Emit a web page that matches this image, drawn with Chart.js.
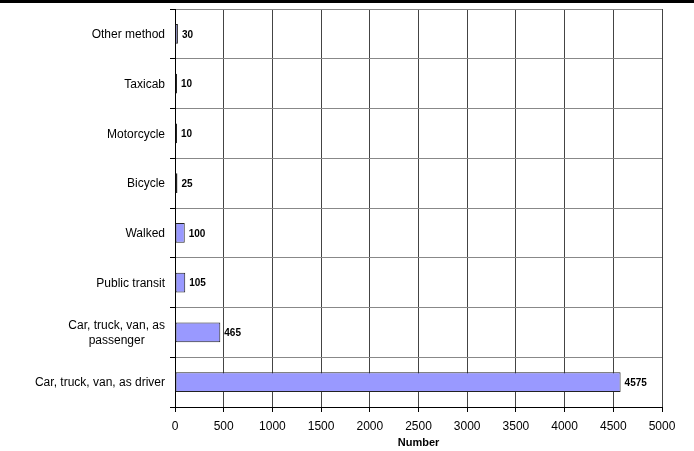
<!DOCTYPE html>
<html>
<head>
<meta charset="utf-8">
<script src="https://cdn.jsdelivr.net/npm/chart.js@4"></script>
<style>
html,body{margin:0;padding:0;background:#fff;}
#wrap{width:694px;height:451px;position:relative;}
</style>
</head>
<body>
<div id="wrap"><canvas id="c" width="694" height="451"></canvas></div>
<script>
const categories = [
  'Other method',
  'Taxicab',
  'Motorcycle',
  'Bicycle',
  'Walked',
  'Public transit',
  ['Car, truck, van, as', 'passenger'],
  'Car, truck, van, as driver'
];
const values = [30, 10, 10, 25, 100, 105, 465, 4575];
const xTitle = 'Number';
const xMin = 0, xMax = 5000, xStep = 500;

const FONT = '"Liberation Sans", Arial, sans-serif';

const topLine = {
  id: 'topLine',
  afterDraw(chart) {
    const ctx = chart.ctx;
    ctx.save();
    ctx.fillStyle = '#000';
    ctx.fillRect(0, 0, chart.width, 3);
    ctx.restore();
  }
};

const catLabels = {
  id: 'catLabels',
  afterDraw(chart) {
    const ctx = chart.ctx;
    const y = chart.scales.y;
    const right = y.right - 10;
    const lh = 15;
    ctx.save();
    ctx.font = '12px ' + FONT;
    ctx.fillStyle = '#000';
    ctx.textBaseline = 'middle';
    categories.forEach((lab, i) => {
      const cy = y.getPixelForValue(i) + 1;
      const lines = Array.isArray(lab) ? lab : [lab];
      const widths = lines.map(l => ctx.measureText(l).width);
      const maxW = Math.max(...widths);
      const cx = right - maxW / 2;
      const y0 = cy - (lines.length - 1) * lh / 2;
      lines.forEach((l, k) => {
        ctx.textAlign = 'center';
        ctx.fillText(l, cx, y0 + k * lh);
      });
    });
    ctx.restore();
  }
};

const valueLabels = {
  id: 'valueLabels',
  afterDatasetsDraw(chart) {
    const ctx = chart.ctx;
    const meta = chart.getDatasetMeta(0);
    ctx.save();
    ctx.font = 'bold 10px ' + FONT;
    ctx.fillStyle = '#000';
    ctx.textAlign = 'left';
    ctx.textBaseline = 'middle';
    meta.data.forEach((bar, i) => {
      ctx.fillText(String(values[i]), bar.x + 4, bar.y + 1);
    });
    ctx.restore();
  }
};

new Chart(document.getElementById('c'), {
  type: 'bar',
  data: {
    labels: categories,
    datasets: [{
      data: values,
      backgroundColor: '#9999FF',
      borderColor: '#222222',
      borderWidth: 1,
      borderSkipped: false,
      categoryPercentage: 1,
      barPercentage: 0.4,
      minBarLength: 2
    }]
  },
  options: {
    indexAxis: 'y',
    responsive: false,
    animation: false,
    devicePixelRatio: 1,
    layout: { padding: { top: 9, right: 32, left: 0, bottom: 0 } },
    plugins: {
      legend: { display: false },
      tooltip: { enabled: false }
    },
    scales: {
      x: {
        min: xMin, max: xMax,
        afterFit(s) { s.height = 44; },
        ticks: {
          stepSize: xStep,
          color: '#000',
          font: { family: FONT, size: 12 },
          padding: 7,
          maxRotation: 0,
          callback: v => String(v)
        },
        grid: {
          color: '#444',
          lineWidth: 1,
          tickLength: 5,
          tickColor: '#000',
          drawTicks: true
        },
        border: { color: '#000', width: 1 },
        title: {
          display: true,
          text: xTitle,
          color: '#000',
          font: { family: FONT, size: 11, weight: 'bold' },
          padding: { top: 0, bottom: 1 }
        }
      },
      y: {
        afterFit(s) { s.width = 175; },
        ticks: {
          display: false
        },
        grid: {
          offset: true,
          color: '#888',
          lineWidth: 1,
          tickLength: 5,
          tickColor: '#000'
        },
        border: { color: '#000', width: 1 }
      }
    }
  },
  plugins: [topLine, valueLabels, catLabels]
});
</script>
</body>
</html>
